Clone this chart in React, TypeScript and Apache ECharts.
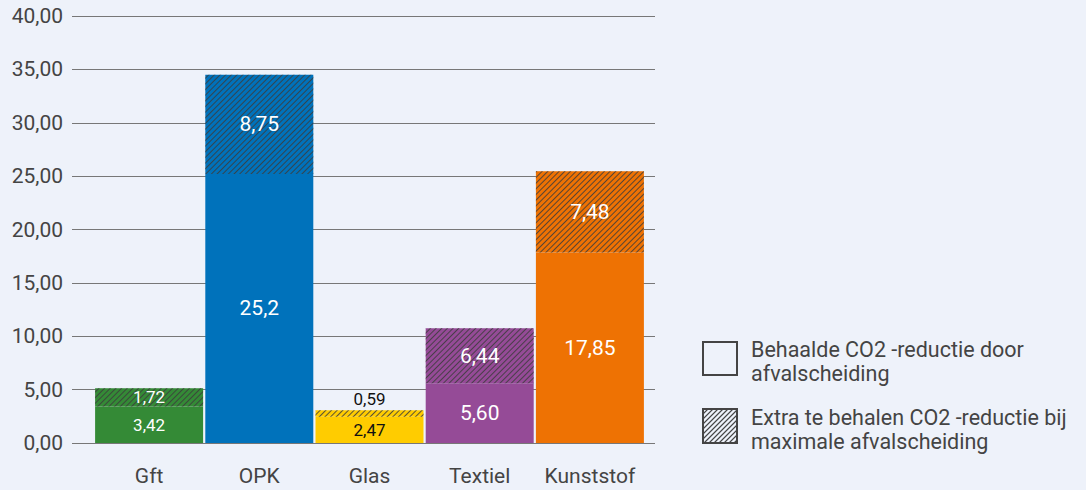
import React, { useEffect, useRef } from "react";
import * as echarts from "echarts";

const categories = ["Gft", "OPK", "Glas", "Textiel", "Kunststof"];
const baseValues = [3.42, 25.2, 2.47, 5.6, 17.85];
const extraValues = [1.72, 9.3, 0.59, 5.16, 7.6];
const baseLabels = ["3,42", "25,2", "2,47", "5,60", "17,85"];
const extraLabels = ["1,72", "8,75", "0,59", "6,44", "7,48"];
const barColors = ["#348a36", "#0072bb", "#ffcc00", "#954b97", "#ee7203"];
const labelColors = ["#ffffff", "#ffffff", "#111111", "#ffffff", "#ffffff"];
const labelSizes = [17, 21, 17, 21, 21];
const extraPositions = ["inside", "inside", "top", "inside", "inside"];
const extraLabelColors = ["#ffffff", "#ffffff", "#111111", "#ffffff", "#ffffff"];
const legendTexts = [
  "Behaalde CO2 -reductie door\nafvalscheiding",
  "Extra te behalen CO2 -reductie bij\nmaximale afvalscheiding",
];

const FONT = "Roboto";
const decal = {
  symbol: "rect",
  symbolSize: 1,
  color: "rgba(60,60,60,0.85)",
  dashArrayX: [1, 0],
  dashArrayY: [1, 2.5],
  rotation: -Math.PI / 4,
};

function hatchLines(x0: number, y0: number, size: number, step: number) {
  const lines: any[] = [];
  for (let k = step; k < 2 * size; k += step) {
    const x1 = x0 + Math.max(0, k - size);
    const y1 = y0 + Math.min(k, size);
    const x2 = x0 + Math.min(k, size);
    const y2 = y0 + Math.max(0, k - size);
    lines.push({
      type: "line",
      shape: { x1, y1, x2, y2 },
      style: { stroke: "#444", lineWidth: 1.1 },
      silent: true,
    });
  }
  return lines;
}

export default function App() {
  const ref = useRef<HTMLDivElement>(null);
  useEffect(() => {
    if (!ref.current) return;
    const chart = echarts.init(ref.current, undefined, { renderer: "svg" });
    const yFmt = (v: number) => v.toFixed(2).replace(".", ",");
    chart.setOption({
      animation: false,
      backgroundColor: "#eef2fa",
      textStyle: { fontFamily: FONT },
      grid: [
        { left: 72, right: 431, top: 16, bottom: 47 },
        { left: 94, right: 441, top: 16, bottom: 47 },
      ],
      xAxis: [
        { type: "category", gridIndex: 0, data: categories, show: false },
        {
          type: "category",
          gridIndex: 1,
          data: categories,
          axisLine: { show: false },
          axisTick: { show: false },
          axisLabel: { color: "#444", fontSize: 21, margin: 22, interval: 0, fontFamily: FONT },
        },
      ],
      yAxis: [
        {
          type: "value",
          gridIndex: 0,
          min: 0,
          max: 40,
          interval: 5,
          axisLine: { show: false },
          axisTick: { show: false },
          axisLabel: { color: "#444", fontSize: 21, margin: 9, formatter: yFmt, fontFamily: FONT },
          splitLine: { lineStyle: { color: "#777", width: 1 } },
        },
        {
          type: "value",
          gridIndex: 1,
          min: 0,
          max: 40,
          interval: 5,
          show: false,
          splitLine: { show: false },
        },
      ],
      series: [
        {
          type: "bar",
          xAxisIndex: 1,
          yAxisIndex: 1,
          stack: "total",
          barWidth: 108,
          data: baseValues.map((v, i) => ({
            value: v,
            itemStyle: { color: barColors[i] },
            label: {
              show: true,
              position: "inside",
              color: labelColors[i],
              fontSize: labelSizes[i],
              fontFamily: FONT,
              formatter: () => baseLabels[i],
            },
          })),
        },
        {
          type: "bar",
          xAxisIndex: 1,
          yAxisIndex: 1,
          stack: "total",
          barWidth: 108,
          data: extraValues.map((v, i) => ({
            value: v,
            itemStyle: { color: barColors[i], decal },
            label: {
              show: true,
              position: extraPositions[i],
              distance: 3,
              color: extraLabelColors[i],
              fontSize: labelSizes[i],
              fontFamily: FONT,
              formatter: () => extraLabels[i],
            },
          })),
        },
      ],
      graphic: [
        {
          type: "rect",
          shape: { x: 703, y: 342, width: 34, height: 33 },
          style: { fill: "none", stroke: "#444", lineWidth: 2 },
        },
        {
          type: "text",
          x: 751,
          y: 338,
          style: {
            text: legendTexts[0],
            fill: "#444",
            fontSize: 21.5,
            lineHeight: 23.5,
            fontFamily: FONT,
          },
        },
        {
          type: "group",
          children: hatchLines(703, 409, 34, 5),
        },
        {
          type: "rect",
          shape: { x: 703, y: 409, width: 34, height: 34 },
          style: { fill: "none", stroke: "#444", lineWidth: 2 },
        },
        {
          type: "text",
          x: 751,
          y: 406,
          style: {
            text: legendTexts[1],
            fill: "#444",
            fontSize: 21.5,
            lineHeight: 23.5,
            fontFamily: FONT,
          },
        },
      ],
    });
    return () => chart.dispose();
  }, []);
  return (
    <div
      ref={ref}
      style={{ position: "fixed", left: 0, top: 0, width: 1086, height: 490 }}
    />
  );
}
